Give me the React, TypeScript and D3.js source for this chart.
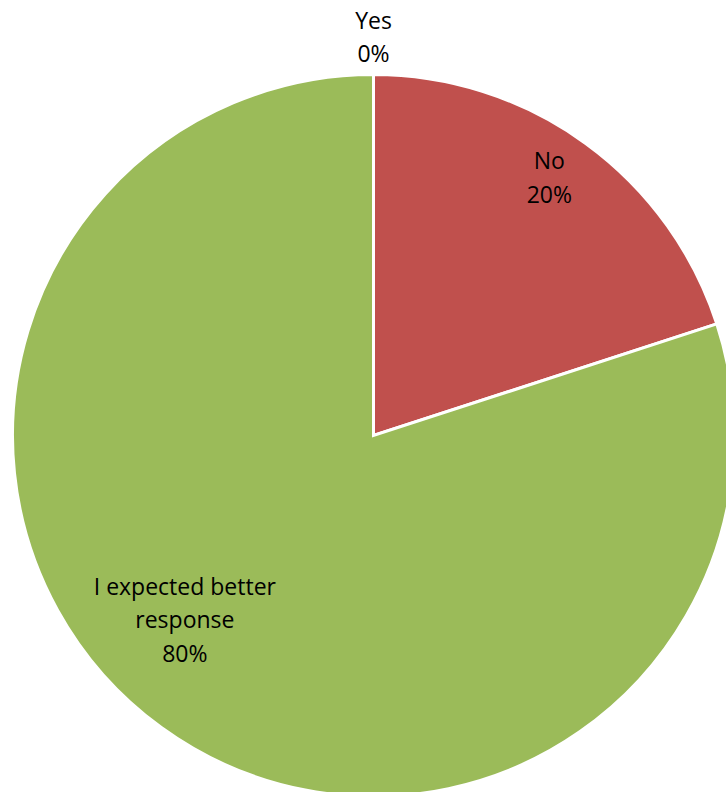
import React from "react";
import * as d3 from "d3";

const categories = ["Yes", "No", "I expected better response"];
const values = [0, 20, 80];
const percentLabels = ["0%", "20%", "80%"];
const colors = ["#4F81BD", "#C0504D", "#9BBB59"];

const W = 726;
const H = 792;
const cx = 373.5;
const cy = 435.5;
const R = 361;

// label placement (angle in degrees clockwise from top, radius in px) – layout only
const labelAngle = [0, 34.3, 225.6];
const labelRadius = [398, 312, 264];
const labelLinesOf = (i: number) =>
  i === 2 ? ["I expected better", "response", percentLabels[i]] : [categories[i], percentLabels[i]];

export default function App() {
  const pie = d3.pie<number>().sort(null).value((d) => d)(values);
  const arc = d3.arc<d3.PieArcDatum<number>>().innerRadius(0).outerRadius(R);

  const fs = 23;
  const lh = 33.5;

  return (
    <svg width={W} height={H} style={{ position: "absolute", left: 0, top: 0 }}>
      <rect width={W} height={H} fill="#ffffff" />
      <g transform={`translate(${cx},${cy})`}>
        {pie.map((p, i) =>
          values[i] > 0 ? (
            <path key={i} d={arc(p) || ""} fill={colors[i]} stroke="#ffffff" strokeWidth={3} strokeLinejoin="miter" />
          ) : null
        )}
      </g>
      {categories.map((c, i) => {
        const a = (labelAngle[i] * Math.PI) / 180;
        const x = cx + labelRadius[i] * Math.sin(a);
        const y = cy - labelRadius[i] * Math.cos(a);
        const lines = labelLinesOf(i);
        const y0 = y - ((lines.length - 1) * lh) / 2;
        return (
          <text
            key={c}
            textAnchor="middle"
            fontFamily="'Open Sans', 'Noto Sans', sans-serif"
            fontSize={fs}
            fill="#000000"
          >
            {lines.map((l, j) => (
              <tspan key={j} x={x} y={y0 + j * lh} dy="0.35em">
                {l}
              </tspan>
            ))}
          </text>
        );
      })}
    </svg>
  );
}
